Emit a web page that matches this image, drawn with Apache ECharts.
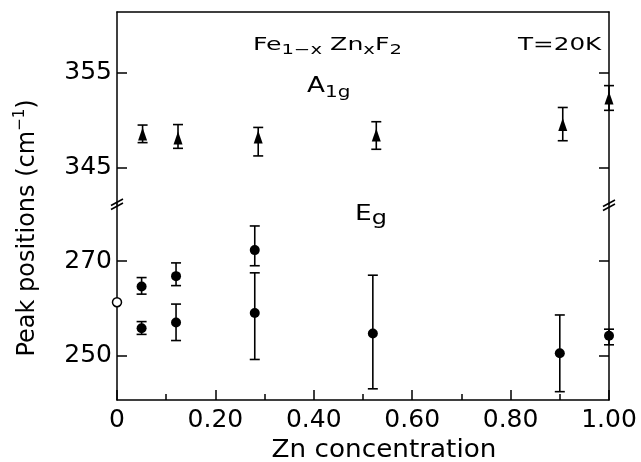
<!DOCTYPE html>
<html><head><meta charset="utf-8">
<script src="https://cdn.jsdelivr.net/npm/echarts@6/dist/echarts.min.js"></script>
<style>html,body{margin:0;padding:0;background:#fff}#c{width:641px;height:462px}</style>
</head><body><div id="c"></div>
<script>
// ---- data ----
const xA1g = [0.052, 0.124, 0.287, 0.527, 0.906, 1.00];
const a1g = [348.5, 348.1, 348.2, 348.4, 349.5, 352.3];
const a1gLow = [347.6, 347.0, 346.2, 346.9, 347.8, 351.0];
const a1gHigh = [349.45, 349.5, 349.2, 349.8, 351.3, 353.6];

const xEgHigh = [0.05, 0.12, 0.28];
const egHigh = [264.6, 266.8, 272.3];
const egHighLow = [263.0, 264.8, 269.0];
const egHighHigh = [266.5, 269.6, 277.4];

const xEgLow = [0.05, 0.12, 0.28, 0.52, 0.90, 1.00];
const egLow = [255.8, 257.0, 259.0, 254.7, 250.5, 254.2];
const egLowLow = [254.5, 253.2, 249.2, 243.0, 242.4, 252.3];
const egLowHigh = [257.2, 260.9, 267.5, 267.0, 258.6, 255.6];

const xFeF2 = [0];
const feF2 = [261.3];

const xTickLabels = {0: '0', 0.2: '0.20', 0.4: '0.40', 0.6: '0.60', 0.8: '0.80', 1: '1.00'};
const upperTicks = [345, 355];
const lowerTicks = [250, 270];

// ---- chart ----
const FONT = 'DejaVu Sans';
const LS = {color: '#000', width: 1.5};
const upperMin = 341.14, upperMax = 361.35, lowerMin = 240.64, lowerMax = 282.04;

function yAx(grid, min, max, ticks, pos, showLabel) {
  return {
    type: 'value', gridIndex: grid, min: min, max: max, position: pos,
    axisLine: {show: true, onZero: false, lineStyle: LS},
    axisTick: {show: true, inside: true, length: 10, customValues: ticks, lineStyle: LS},
    axisLabel: {show: showLabel, customValues: ticks, fontFamily: FONT, fontSize: 25, color: '#000', margin: 5},
    splitLine: {show: false}
  };
}

function errSeries(xs, lo, hi, xi, yi) {
  return {
    type: 'custom', xAxisIndex: xi, yAxisIndex: yi, clip: false, z: 2,
    data: xs.map((x, i) => [x, lo[i], hi[i]]),
    renderItem: function (params, api) {
      const x = api.value(0);
      const p1 = api.coord([x, api.value(1)]);
      const p2 = api.coord([x, api.value(2)]);
      const w = 5;
      const st = {stroke: '#000', lineWidth: 1.6};
      return {type: 'group', children: [
        {type: 'line', shape: {x1: p1[0], y1: p1[1], x2: p2[0], y2: p2[1]}, style: st},
        {type: 'line', shape: {x1: p1[0] - w, y1: p1[1], x2: p1[0] + w, y2: p1[1]}, style: st},
        {type: 'line', shape: {x1: p2[0] - w, y1: p2[1], x2: p2[0] + w, y2: p2[1]}, style: st}
      ]};
    }
  };
}

function pts(xs, ys) { return xs.map((x, i) => [x, ys[i]]); }

const chart = echarts.init(document.getElementById('c'));
chart.setOption({
  animation: false,
  backgroundColor: '#fff',
  grid: [
    {left: 117, right: 32, top: 12, height: 192},
    {left: 117, right: 32, top: 204, height: 196}
  ],
  xAxis: [
    {type: 'value', gridIndex: 0, min: 0, max: 1, position: 'top',
      axisLine: {show: true, onZero: false, lineStyle: LS}, axisTick: {show: false},
      axisLabel: {show: false}, splitLine: {show: false}},
    {type: 'value', gridIndex: 1, min: 0, max: 1, interval: 0.2, position: 'bottom',
      axisLine: {show: true, onZero: false, lineStyle: LS},
      axisTick: {show: true, inside: true, length: 10, lineStyle: LS},
      minorTick: {show: true, splitNumber: 2, length: 6, lineStyle: LS},
      axisLabel: {fontFamily: FONT, fontSize: 25, color: '#000', margin: 8,
        formatter: v => xTickLabels[Math.round(v * 10) / 10] || ''},
      splitLine: {show: false}, minorSplitLine: {show: false}}
  ],
  yAxis: [
    yAx(0, upperMin, upperMax, upperTicks, 'left', true),
    yAx(0, upperMin, upperMax, upperTicks, 'right', false),
    yAx(1, lowerMin, lowerMax, lowerTicks, 'left', true),
    yAx(1, lowerMin, lowerMax, lowerTicks, 'right', false)
  ],
  series: [
    errSeries(xA1g, a1gLow, a1gHigh, 0, 0),
    {type: 'scatter', xAxisIndex: 0, yAxisIndex: 0, clip: false, z: 3,
      data: pts(xA1g, a1g), symbol: 'triangle', symbolSize: [9, 13], itemStyle: {color: '#000', opacity: 1}},
    errSeries(xEgHigh, egHighLow, egHighHigh, 1, 2),
    {type: 'scatter', xAxisIndex: 1, yAxisIndex: 2, clip: false, z: 3,
      data: pts(xEgHigh, egHigh), symbol: 'circle', symbolSize: 10, itemStyle: {color: '#000', opacity: 1}},
    errSeries(xEgLow, egLowLow, egLowHigh, 1, 2),
    {type: 'scatter', xAxisIndex: 1, yAxisIndex: 2, clip: false, z: 3,
      data: pts(xEgLow, egLow), symbol: 'circle', symbolSize: 10, itemStyle: {color: '#000', opacity: 1}},
    {type: 'scatter', xAxisIndex: 1, yAxisIndex: 2, clip: false, z: 4,
      data: pts(xFeF2, feF2), symbol: 'circle', symbolSize: 9,
      itemStyle: {color: '#fff', borderColor: '#000', borderWidth: 1.5, opacity: 1}}
  ]
});

// annotations and axis-break marks
const breakY = chart.convertToPixel({yAxisIndex: 2}, lowerMax);
const xl = chart.convertToPixel({xAxisIndex: 1}, 0);
const xr = chart.convertToPixel({xAxisIndex: 1}, 1);
function brk(cx, cy) {
  const st = {stroke: '#000', lineWidth: 1.5};
  return [
    {type: 'line', shape: {x1: cx - 6, y1: cy + 1.5, x2: cx + 6, y2: cy - 5}, style: st},
    {type: 'line', shape: {x1: cx - 6, y1: cy + 5.5, x2: cx + 6, y2: cy - 1}, style: st}
  ];
}
const txt = (x, y, text, rich, sx) => ({
  type: 'text', x: x, y: y, scaleX: sx || 1,
  style: {text: text, rich: rich, fill: '#000', align: 'left', verticalAlign: 'middle'}
});

chart.setOption({
  graphic: [].concat(
    brk(xl, breakY), brk(xr, breakY + 1),
    [
      {type: 'text', x: 28, y: 228, rotation: Math.PI / 2,
        style: {text: '{n|Peak positions (cm}{s|−1}{n|)}', fill: '#000', align: 'center', verticalAlign: 'middle',
          rich: {n: {fontFamily: FONT, fontSize: 24, lineHeight: 30, fill: '#000'},
                 s: {fontFamily: FONT, fontSize: 15, lineHeight: 14, verticalAlign: 'top', fill: '#000'}}}},
      {type: 'text', x: 384, y: 450, scaleX: 1.05,
        style: {text: 'Zn concentration', fontFamily: FONT, fontSize: 25, fill: '#000', align: 'center', verticalAlign: 'middle'}},
      txt(253, 45, '{n|Fe}{s|1−x}{n| Zn}{s|x}{n|F}{s|2}',
        {n: {fontFamily: FONT, fontSize: 18, lineHeight: 24, fill: '#000'},
         s: {fontFamily: FONT, fontSize: 14, lineHeight: 12, verticalAlign: 'bottom', fill: '#000'}}, 1.4),
      txt(518, 45, '{n|T=20K}',
        {n: {fontFamily: FONT, fontSize: 18, lineHeight: 24, fill: '#000'}}, 1.37),
      txt(307, 87, '{n|A}{s|1g}',
        {n: {fontFamily: FONT, fontSize: 21, lineHeight: 28, fill: '#000'},
         s: {fontFamily: FONT, fontSize: 16, lineHeight: 14, verticalAlign: 'bottom', fill: '#000'}}, 1.25),
      txt(355, 214, '{n|E}{s|g}',
        {n: {fontFamily: FONT, fontSize: 22, lineHeight: 30, fill: '#000'},
         s: {fontFamily: FONT, fontSize: 20, lineHeight: 18, verticalAlign: 'bottom', fill: '#000'}}, 1.2)
    ]
  )
});
</script>
</body></html>
